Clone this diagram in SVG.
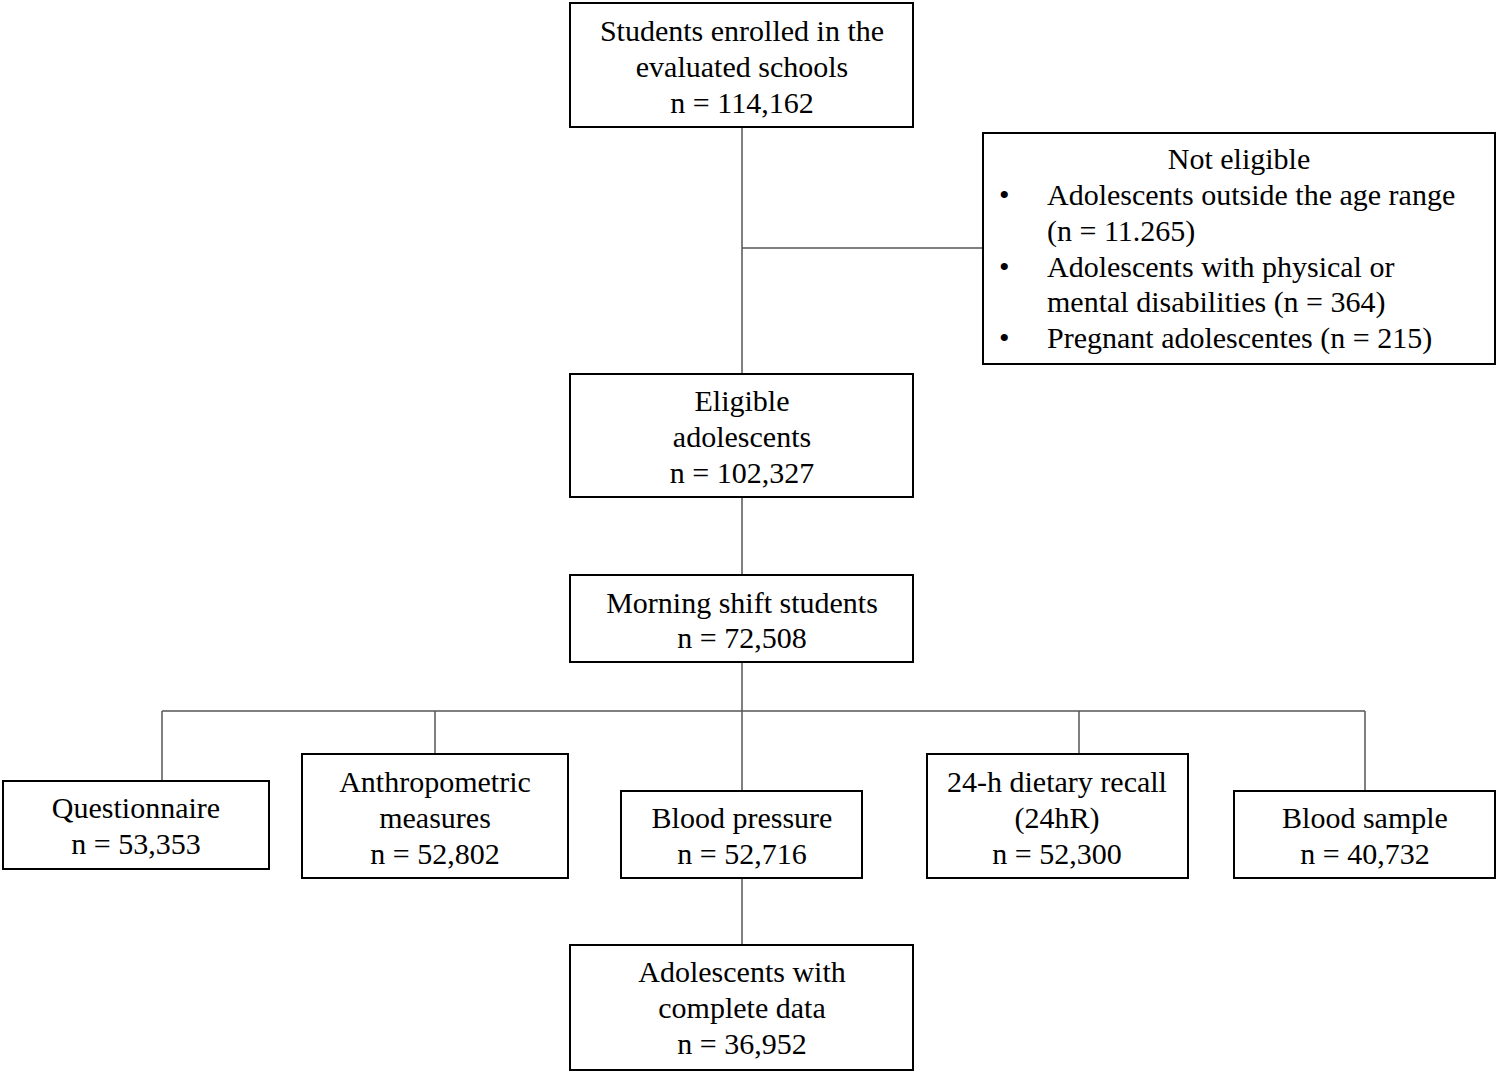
<svg xmlns="http://www.w3.org/2000/svg" width="1500" height="1075" viewBox="0 0 1500 1075">
<style>
.box{fill:#fff;stroke:#000;stroke-width:2}
.t{font-family:"Liberation Serif","Times New Roman",serif;font-size:30px;fill:#000;text-anchor:middle}
.l{font-family:"Liberation Serif","Times New Roman",serif;font-size:30px;fill:#000}
.c{stroke:#555;stroke-width:1.5;fill:none}
</style>
<rect width="1500" height="1075" fill="#fff"/>
<g id="connectors">
<path class="c" d="M742 127V374M742 248H983M742 497V575M742 662V791M162 711H1365M162 711V781M435 711V754M1079 711V754M1365 711V791M742 878V945"/>
</g>
<g id="n-students"><rect class="box" x="570" y="3" width="343" height="124"/>
<text class="t" x="742" y="41">Students enrolled in the</text><text class="t" x="742" y="77">evaluated schools</text><text class="t" x="742" y="113">n = 114,162</text></g>
<g id="n-noteligible"><rect class="box" x="983" y="133" width="512" height="231"/>
<text class="t" x="1239" y="169">Not eligible</text>
<text class="l" x="999" y="205">•</text><text class="l" x="1047" y="205">Adolescents outside the age range</text>
<text class="l" x="1047" y="241">(n = 11.265)</text>
<text class="l" x="999" y="277">•</text><text class="l" x="1047" y="277">Adolescents with physical or</text>
<text class="l" x="1047" y="312">mental disabilities (n = 364)</text>
<text class="l" x="999" y="348">•</text><text class="l" x="1047" y="348">Pregnant adolescentes (n = 215)</text></g>
<g id="n-eligible"><rect class="box" x="570" y="374" width="343" height="123"/>
<text class="t" x="742" y="411">Eligible</text><text class="t" x="742" y="447">adolescents</text><text class="t" x="742" y="483">n = 102,327</text></g>
<g id="n-morning"><rect class="box" x="570" y="575" width="343" height="87"/>
<text class="t" x="742" y="613">Morning shift students</text><text class="t" x="742" y="648">n = 72,508</text></g>
<g id="n-questionnaire"><rect class="box" x="3" y="781" width="266" height="88"/>
<text class="t" x="136" y="818">Questionnaire</text><text class="t" x="136" y="854">n = 53,353</text></g>
<g id="n-anthropometric"><rect class="box" x="302" y="754" width="266" height="124"/>
<text class="t" x="435" y="792">Anthropometric</text><text class="t" x="435" y="828">measures</text><text class="t" x="435" y="864">n = 52,802</text></g>
<g id="n-bp"><rect class="box" x="621" y="791" width="241" height="87"/>
<text class="t" x="742" y="828">Blood pressure</text><text class="t" x="742" y="864">n = 52,716</text></g>
<g id="n-24h"><rect class="box" x="927" y="754" width="261" height="124"/>
<text class="t" x="1057" y="792">24-h dietary recall</text><text class="t" x="1057" y="828">(24hR)</text><text class="t" x="1057" y="864">n = 52,300</text></g>
<g id="n-blood"><rect class="box" x="1234" y="791" width="261" height="87"/>
<text class="t" x="1365" y="828">Blood sample</text><text class="t" x="1365" y="864">n = 40,732</text></g>
<g id="n-complete"><rect class="box" x="570" y="945" width="343" height="125"/>
<text class="t" x="742" y="982">Adolescents with</text><text class="t" x="742" y="1018">complete data</text><text class="t" x="742" y="1054">n = 36,952</text></g>
</svg>
